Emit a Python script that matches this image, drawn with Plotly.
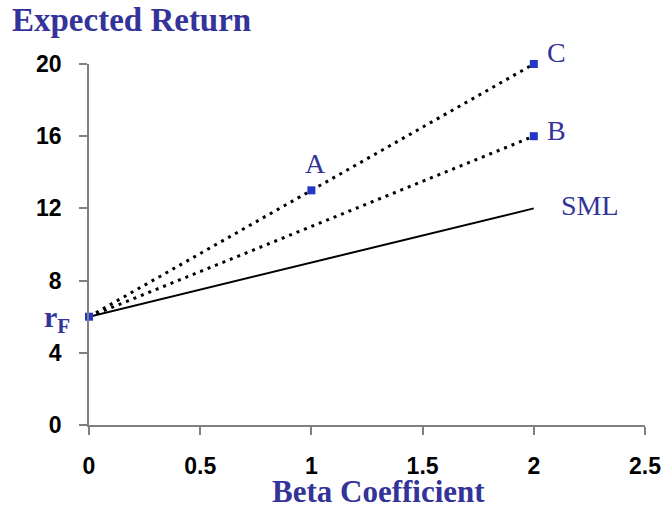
import plotly.graph_objects as go

# Data
rf = 6
beta_sml = [0, 2]
ret_sml = [6, 12]
beta_a_line = [0, 1, 2]
ret_a_line = [6, 13, 20]
beta_b_line = [0, 2]
ret_b_line = [6, 16]
point_names = ["A", "B", "C"]
point_beta = [1, 2, 2]
point_ret = [13, 16, 20]
x_ticks = [0, 0.5, 1, 1.5, 2, 2.5]
x_tick_labels = ["0", "0.5", "1", "1.5", "2", "2.5"]
y_ticks = [0, 4, 8, 12, 16, 20]
y_tick_labels = ["0", "4", "8", "12", "16", "20"]

TXT = "#333399"
MK = "#2236c8"
fig = go.Figure()

fig.add_trace(go.Scatter(x=beta_a_line, y=ret_a_line, mode="lines",
                         line=dict(color="black", width=3, dash="3px,5px"),
                         hoverinfo="skip", cliponaxis=False))
fig.add_trace(go.Scatter(x=beta_b_line, y=ret_b_line, mode="lines",
                         line=dict(color="black", width=3, dash="3px,5px"),
                         hoverinfo="skip", cliponaxis=False))
fig.add_trace(go.Scatter(x=beta_sml, y=ret_sml, mode="lines",
                         line=dict(color="black", width=2),
                         hoverinfo="skip", cliponaxis=False))
fig.add_trace(go.Scatter(x=point_beta + [0], y=point_ret + [rf], mode="markers",
                         marker=dict(symbol="square", size=8, color=MK),
                         cliponaxis=False))

lab_font = dict(family="Liberation Serif", size=28, color=TXT)
fig.add_annotation(x=point_beta[0], y=point_ret[0], text=point_names[0], showarrow=False,
                   xshift=4, yshift=27, font=lab_font)
fig.add_annotation(x=point_beta[1], y=point_ret[1], text=point_names[1], showarrow=False,
                   xshift=23, yshift=6, font=lab_font)
fig.add_annotation(x=point_beta[2], y=point_ret[2], text=point_names[2], showarrow=False,
                   xshift=23, yshift=12, font=lab_font)
fig.add_annotation(x=beta_sml[1], y=ret_sml[1], text="SML", showarrow=False,
                   xshift=56, yshift=3, font=lab_font)
fig.add_annotation(x=0, y=rf, text="<b>r<sub>F</sub></b>", showarrow=False,
                   xshift=-32, yshift=-2, font=dict(family="Liberation Serif", size=30, color=TXT))

fig.add_annotation(xref="paper", yref="paper", x=-0.142, y=1.122, xanchor="left", yanchor="middle",
                   text="<b>Expected Return</b>", showarrow=False,
                   font=dict(family="Liberation Serif", size=33, color=TXT))
fig.add_annotation(xref="paper", yref="paper", x=0.52, y=-0.184, xanchor="center", yanchor="middle",
                   text="<b>Beta Coefficient</b>", showarrow=False,
                   font=dict(family="Liberation Serif", size=31, color=TXT))

axis_common = dict(showgrid=False, zeroline=False, showline=True, linecolor="#808080",
                   linewidth=1.5, ticks="outside", ticklen=8, tickcolor="#808080", tickwidth=1.5,
                   automargin=False,
                   tickfont=dict(family="Liberation Sans", size=23, color="black", weight="bold"))
fig.update_xaxes(range=[0, 2.5], tickvals=x_ticks, ticktext=x_tick_labels,
                 ticklabelstandoff=12, **axis_common)
fig.update_yaxes(range=[0, 20], tickvals=y_ticks, ticktext=y_tick_labels,
                 ticklabelstandoff=13, **axis_common)

fig.update_layout(width=667, height=506, margin=dict(l=89, r=22, t=64, b=81, autoexpand=False),
                  plot_bgcolor="white", paper_bgcolor="white", showlegend=False)

fig.write_html("out.html")
